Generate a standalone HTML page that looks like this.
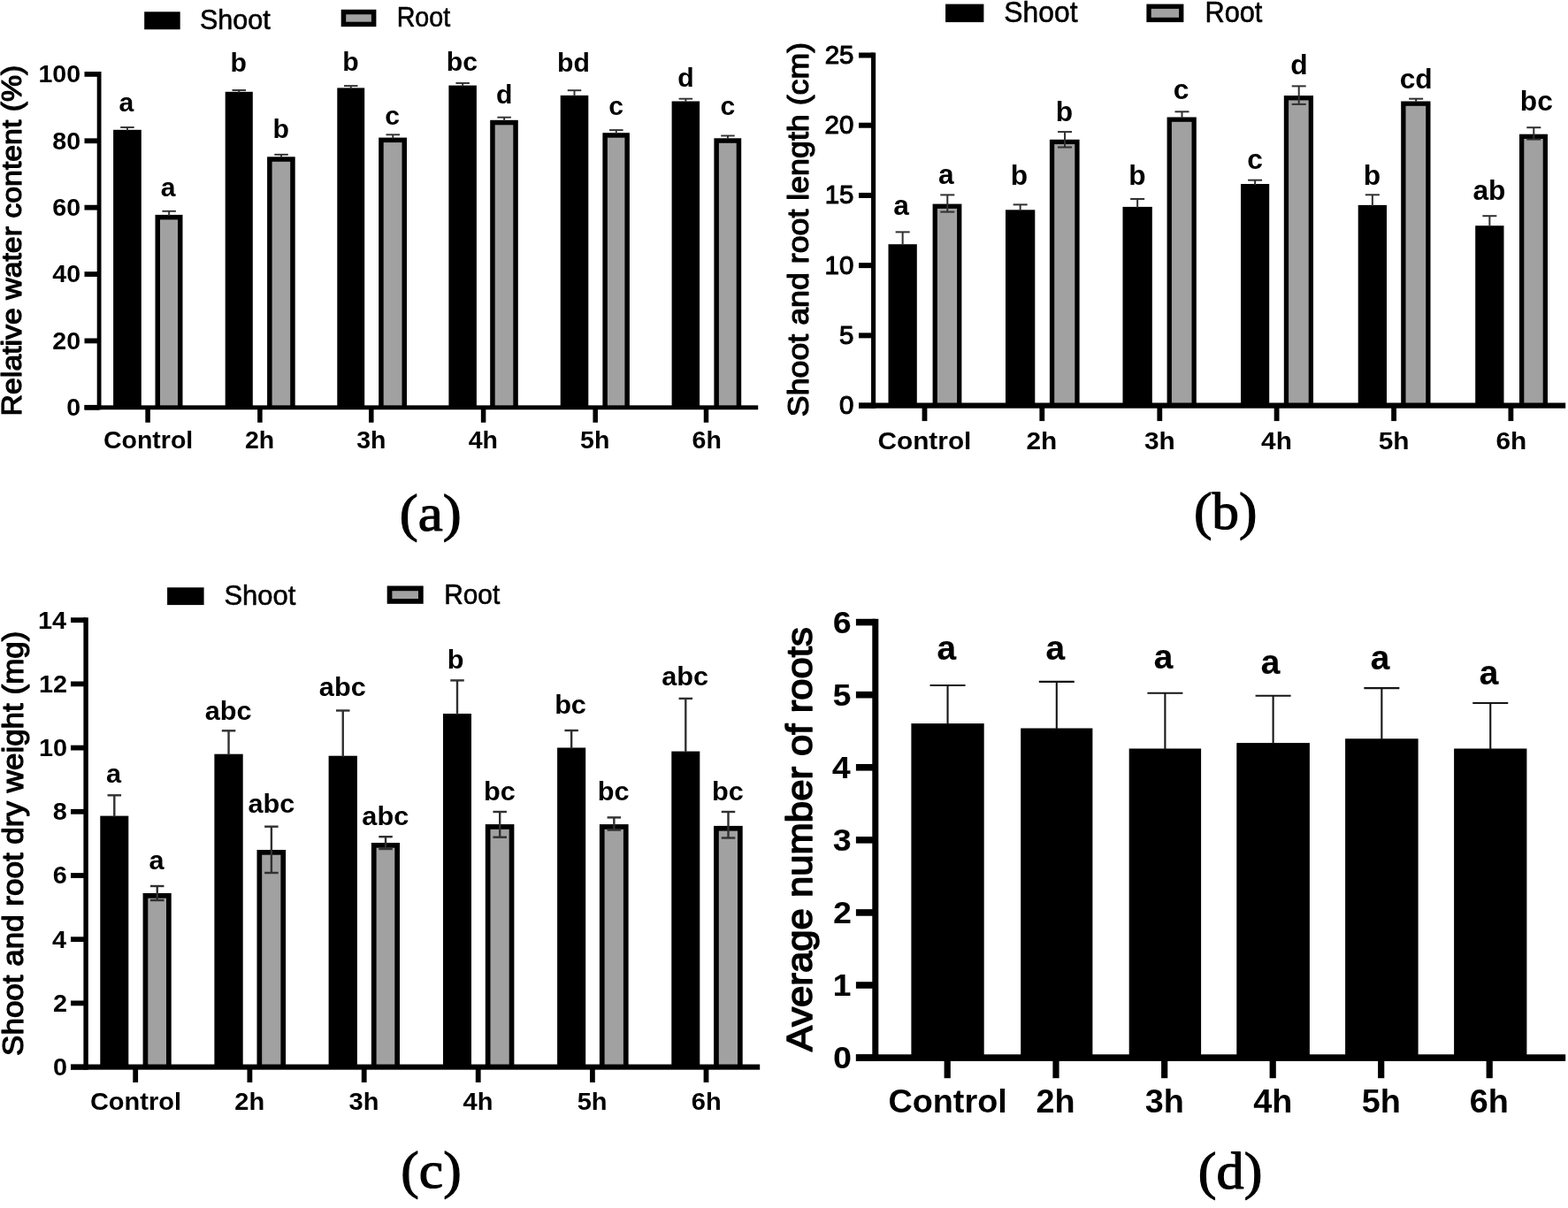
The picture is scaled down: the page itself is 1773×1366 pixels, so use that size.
<!DOCTYPE html>
<html lang="en">
<head>
<meta charset="utf-8">
<title>Figure</title>
<style>
html,body{margin:0;padding:0;background:#fff;}
body{width:1773px;height:1366px;overflow:hidden;}
svg{display:block;}
text{fill:#000;}
.b{font-family:"Liberation Sans",sans-serif;font-weight:bold;}
.r{font-family:"Liberation Sans",sans-serif;font-weight:normal;}
.t{font-family:"Liberation Serif",serif;font-weight:normal;}
</style>
</head>
<body>
<svg width="1773" height="1366" viewBox="0 0 1773 1366">
<rect x="0" y="0" width="1773" height="1366" fill="#fff"/>
<g>
<rect x="128.1" y="146.8" width="31.7" height="314" fill="#000"/>
<line x1="143.95" y1="144" x2="143.95" y2="147.8" stroke="#303030" stroke-width="1.9"/>
<line x1="136.2" y1="144" x2="151.7" y2="144" stroke="#303030" stroke-width="1.9"/>
<rect x="175.5" y="242.9" width="31" height="217.9" fill="#000"/>
<rect x="181" y="248.4" width="20" height="212.4" fill="#a1a1a1"/>
<line x1="191.15" y1="238.8" x2="191.15" y2="243.9" stroke="#303030" stroke-width="1.9"/>
<line x1="183.4" y1="238.8" x2="198.9" y2="238.8" stroke="#303030" stroke-width="1.9"/>
<rect x="254.7" y="103.8" width="31.1" height="357" fill="#000"/>
<line x1="270.25" y1="102" x2="270.25" y2="104.8" stroke="#303030" stroke-width="1.9"/>
<line x1="262.5" y1="102" x2="278" y2="102" stroke="#303030" stroke-width="1.9"/>
<rect x="302.1" y="177.3" width="31.6" height="283.5" fill="#000"/>
<rect x="307.6" y="182.8" width="20.6" height="278" fill="#a1a1a1"/>
<line x1="318.05" y1="174.8" x2="318.05" y2="178.3" stroke="#303030" stroke-width="1.9"/>
<line x1="310.3" y1="174.8" x2="325.8" y2="174.8" stroke="#303030" stroke-width="1.9"/>
<rect x="381.3" y="99.4" width="30.9" height="361.4" fill="#000"/>
<line x1="396.75" y1="97.1" x2="396.75" y2="100.4" stroke="#303030" stroke-width="1.9"/>
<line x1="389" y1="97.1" x2="404.5" y2="97.1" stroke="#303030" stroke-width="1.9"/>
<rect x="428.2" y="155.6" width="31.8" height="305.2" fill="#000"/>
<rect x="433.7" y="161.1" width="20.8" height="299.7" fill="#a1a1a1"/>
<line x1="444.25" y1="152.3" x2="444.25" y2="156.6" stroke="#303030" stroke-width="1.9"/>
<line x1="436.5" y1="152.3" x2="452" y2="152.3" stroke="#303030" stroke-width="1.9"/>
<rect x="507.4" y="96.6" width="31.5" height="364.2" fill="#000"/>
<line x1="523.15" y1="94" x2="523.15" y2="97.6" stroke="#303030" stroke-width="1.9"/>
<line x1="515.4" y1="94" x2="530.9" y2="94" stroke="#303030" stroke-width="1.9"/>
<rect x="554.2" y="135.8" width="31.6" height="325" fill="#000"/>
<rect x="559.7" y="141.3" width="20.6" height="319.5" fill="#a1a1a1"/>
<line x1="570.15" y1="132.7" x2="570.15" y2="136.8" stroke="#303030" stroke-width="1.9"/>
<line x1="562.4" y1="132.7" x2="577.9" y2="132.7" stroke="#303030" stroke-width="1.9"/>
<rect x="633.7" y="107.9" width="31.6" height="352.9" fill="#000"/>
<line x1="649.5" y1="102.2" x2="649.5" y2="108.9" stroke="#303030" stroke-width="1.9"/>
<line x1="641.75" y1="102.2" x2="657.25" y2="102.2" stroke="#303030" stroke-width="1.9"/>
<rect x="681.4" y="150.2" width="30.5" height="310.6" fill="#000"/>
<rect x="686.9" y="155.7" width="19.5" height="305.1" fill="#a1a1a1"/>
<line x1="696.8" y1="147.1" x2="696.8" y2="151.2" stroke="#303030" stroke-width="1.9"/>
<line x1="689.05" y1="147.1" x2="704.55" y2="147.1" stroke="#303030" stroke-width="1.9"/>
<rect x="759.6" y="114.5" width="31.5" height="346.3" fill="#000"/>
<line x1="775.35" y1="111.7" x2="775.35" y2="115.5" stroke="#303030" stroke-width="1.9"/>
<line x1="767.6" y1="111.7" x2="783.1" y2="111.7" stroke="#303030" stroke-width="1.9"/>
<rect x="807.4" y="156.3" width="30.8" height="304.5" fill="#000"/>
<rect x="812.9" y="161.8" width="19.8" height="299" fill="#a1a1a1"/>
<line x1="822.95" y1="153.5" x2="822.95" y2="157.3" stroke="#303030" stroke-width="1.9"/>
<line x1="815.2" y1="153.5" x2="830.7" y2="153.5" stroke="#303030" stroke-width="1.9"/>
<rect x="109.7" y="81" width="4.8" height="382.25" fill="#000"/>
<rect x="95.5" y="458.35" width="761.7" height="4.9" fill="#000"/>
<rect x="95.5" y="457.9" width="16.6" height="5.8" fill="#000"/>
<text class="b" font-size="27.5" transform="translate(75.27 470.2) scale(1.0400 1.0000)">0</text>
<rect x="95.5" y="382.52" width="16.6" height="5.8" fill="#000"/>
<text class="b" font-size="27.5" transform="translate(59.36 394.82) scale(1.0400 1.0000)">20</text>
<rect x="95.5" y="307.14" width="16.6" height="5.8" fill="#000"/>
<text class="b" font-size="27.5" transform="translate(59.36 319.44) scale(1.0400 1.0000)">40</text>
<rect x="95.5" y="231.76" width="16.6" height="5.8" fill="#000"/>
<text class="b" font-size="27.5" transform="translate(59.36 244.06) scale(1.0400 1.0000)">60</text>
<rect x="95.5" y="156.38" width="16.6" height="5.8" fill="#000"/>
<text class="b" font-size="27.5" transform="translate(59.36 168.68) scale(1.0400 1.0000)">80</text>
<rect x="95.5" y="81" width="16.6" height="5.8" fill="#000"/>
<text class="b" font-size="27.5" transform="translate(43.46 93.3) scale(1.0400 1.0000)">100</text>
<rect x="164.35" y="460.8" width="5.5" height="17" fill="#000"/>
<text class="b" font-size="27.3" transform="translate(116.92 507.2) scale(1.0450 1.0000)">Control</text>
<rect x="291.15" y="460.8" width="5.5" height="17" fill="#000"/>
<text class="b" font-size="27.3" transform="translate(276.94 507.2) scale(1.0450 1.0000)">2h</text>
<rect x="417.05" y="460.8" width="5.5" height="17" fill="#000"/>
<text class="b" font-size="27.3" transform="translate(403.21 507.2) scale(1.0450 1.0000)">3h</text>
<rect x="543.85" y="460.8" width="5.5" height="17" fill="#000"/>
<text class="b" font-size="27.3" transform="translate(529.72 507.2) scale(1.0450 1.0000)">4h</text>
<rect x="670.45" y="460.8" width="5.5" height="17" fill="#000"/>
<text class="b" font-size="27.3" transform="translate(656.1 507.2) scale(1.0450 1.0000)">5h</text>
<rect x="795.75" y="460.8" width="5.5" height="17" fill="#000"/>
<text class="b" font-size="27.3" transform="translate(782.52 507.2) scale(1.0450 1.0000)">6h</text>
<text class="b" font-size="29" transform="translate(134.58 126.3) scale(1.0400 1.0000)">a</text>
<text class="b" font-size="29" transform="translate(181.78 221.8) scale(1.0400 1.0000)">a</text>
<text class="b" font-size="29" transform="translate(260.41 81.4) scale(1.0400 1.0000)">b</text>
<text class="b" font-size="29" transform="translate(308.61 156.2) scale(1.0400 1.0000)">b</text>
<text class="b" font-size="29" transform="translate(387.21 80.1) scale(1.0400 1.0000)">b</text>
<text class="b" font-size="29" transform="translate(435.17 140.8) scale(1.0400 1.0000)">c</text>
<text class="b" font-size="29" transform="translate(504.85 80.1) scale(1.0400 1.0000)">bc</text>
<text class="b" font-size="29" transform="translate(560.96 116.5) scale(1.0400 1.0000)">d</text>
<text class="b" font-size="29" transform="translate(630.08 81.4) scale(1.0400 1.0000)">bd</text>
<text class="b" font-size="29" transform="translate(688.27 130.1) scale(1.0400 1.0000)">c</text>
<text class="b" font-size="29" transform="translate(766.16 97.5) scale(1.0400 1.0000)">d</text>
<text class="b" font-size="29" transform="translate(814.47 130.1) scale(1.0400 1.0000)">c</text>
<text class="r" font-size="31" transform="translate(24.4 470.38) rotate(-90) scale(1.0917 1.0000)" stroke="#000" stroke-width="1.2" stroke-linejoin="round">Relative water content (%)</text>
<rect x="163.2" y="13.3" width="40.5" height="20" fill="#000"/>
<text class="r" font-size="31.5" transform="translate(225.91 32.9) scale(0.9695 1.0000)" stroke="#000" stroke-width="0.6" stroke-linejoin="round">Shoot</text>
<rect x="388.45" y="13.55" width="34.2" height="13.9" fill="#a1a1a1" stroke="#000" stroke-width="5.5"/>
<text class="r" font-size="31.5" transform="translate(448.65 30) scale(0.9102 1.0000)" stroke="#000" stroke-width="0.6" stroke-linejoin="round">Root</text>
<text class="t" font-size="60" transform="translate(451.83 600.3) scale(1.0503 1.0000)" stroke="#000" stroke-width="1.2" stroke-linejoin="round">(a)</text>
</g>
<g>
<rect x="1004.5" y="276.2" width="32.3" height="182.4" fill="#000"/>
<line x1="1020.65" y1="262.4" x2="1020.65" y2="277.2" stroke="#303030" stroke-width="2"/>
<line x1="1012.65" y1="262.4" x2="1028.65" y2="262.4" stroke="#303030" stroke-width="2"/>
<rect x="1054.6" y="230.6" width="32.8" height="228" fill="#000"/>
<rect x="1059.9" y="235.9" width="22.2" height="222.7" fill="#a1a1a1"/>
<line x1="1071.3" y1="220.4" x2="1071.3" y2="239.6" stroke="#303030" stroke-width="2"/>
<line x1="1063.3" y1="220.4" x2="1079.3" y2="220.4" stroke="#303030" stroke-width="2"/>
<line x1="1063.3" y1="239.6" x2="1079.3" y2="239.6" stroke="#303030" stroke-width="2"/>
<rect x="1137" y="237.3" width="33.3" height="221.3" fill="#000"/>
<line x1="1153.65" y1="231.4" x2="1153.65" y2="238.3" stroke="#303030" stroke-width="2"/>
<line x1="1145.65" y1="231.4" x2="1161.65" y2="231.4" stroke="#303030" stroke-width="2"/>
<rect x="1186.9" y="157.8" width="33.7" height="300.8" fill="#000"/>
<rect x="1192.2" y="163.1" width="23.1" height="295.5" fill="#a1a1a1"/>
<line x1="1204.05" y1="149.1" x2="1204.05" y2="166.5" stroke="#303030" stroke-width="2"/>
<line x1="1196.05" y1="149.1" x2="1212.05" y2="149.1" stroke="#303030" stroke-width="2"/>
<line x1="1196.05" y1="166.5" x2="1212.05" y2="166.5" stroke="#303030" stroke-width="2"/>
<rect x="1269.5" y="233.9" width="33.3" height="224.7" fill="#000"/>
<line x1="1286.15" y1="225" x2="1286.15" y2="234.9" stroke="#303030" stroke-width="2"/>
<line x1="1278.15" y1="225" x2="1294.15" y2="225" stroke="#303030" stroke-width="2"/>
<rect x="1319.6" y="132.5" width="33.2" height="326.1" fill="#000"/>
<rect x="1324.9" y="137.8" width="22.6" height="320.8" fill="#a1a1a1"/>
<line x1="1336.5" y1="126.3" x2="1336.5" y2="133.5" stroke="#303030" stroke-width="2"/>
<line x1="1328.5" y1="126.3" x2="1344.5" y2="126.3" stroke="#303030" stroke-width="2"/>
<rect x="1403" y="208" width="32.2" height="250.6" fill="#000"/>
<line x1="1419.1" y1="203.7" x2="1419.1" y2="209" stroke="#303030" stroke-width="2"/>
<line x1="1411.1" y1="203.7" x2="1427.1" y2="203.7" stroke="#303030" stroke-width="2"/>
<rect x="1451.8" y="108.1" width="33.2" height="350.5" fill="#000"/>
<rect x="1457.1" y="113.4" width="22.6" height="345.2" fill="#a1a1a1"/>
<line x1="1468.7" y1="97.4" x2="1468.7" y2="117.9" stroke="#303030" stroke-width="2"/>
<line x1="1460.7" y1="97.4" x2="1476.7" y2="97.4" stroke="#303030" stroke-width="2"/>
<line x1="1460.7" y1="117.9" x2="1476.7" y2="117.9" stroke="#303030" stroke-width="2"/>
<rect x="1535.7" y="231.9" width="32.3" height="226.7" fill="#000"/>
<line x1="1551.85" y1="220.3" x2="1551.85" y2="232.9" stroke="#303030" stroke-width="2"/>
<line x1="1543.85" y1="220.3" x2="1559.85" y2="220.3" stroke="#303030" stroke-width="2"/>
<rect x="1584.2" y="114.5" width="33.3" height="344.1" fill="#000"/>
<rect x="1589.5" y="119.8" width="22.7" height="338.8" fill="#a1a1a1"/>
<line x1="1601.15" y1="111.7" x2="1601.15" y2="115.5" stroke="#303030" stroke-width="2"/>
<line x1="1593.15" y1="111.7" x2="1609.15" y2="111.7" stroke="#303030" stroke-width="2"/>
<rect x="1668.2" y="255.2" width="32.3" height="203.4" fill="#000"/>
<line x1="1684.35" y1="244.2" x2="1684.35" y2="256.2" stroke="#303030" stroke-width="2"/>
<line x1="1676.35" y1="244.2" x2="1692.35" y2="244.2" stroke="#303030" stroke-width="2"/>
<rect x="1718" y="151.7" width="32" height="306.9" fill="#000"/>
<rect x="1723.3" y="157" width="21.4" height="301.6" fill="#a1a1a1"/>
<line x1="1734.3" y1="144.2" x2="1734.3" y2="157.6" stroke="#303030" stroke-width="2"/>
<line x1="1726.3" y1="144.2" x2="1742.3" y2="144.2" stroke="#303030" stroke-width="2"/>
<line x1="1726.3" y1="157.6" x2="1742.3" y2="157.6" stroke="#303030" stroke-width="2"/>
<rect x="985.05" y="59.5" width="5.1" height="402.2" fill="#000"/>
<rect x="971" y="455.5" width="799.2" height="6.2" fill="#000"/>
<rect x="971" y="455.6" width="16.6" height="6" fill="#000"/>
<text class="r" font-size="29.5" transform="translate(948.95 468.1) scale(1.0000 1.0000)" stroke="#000" stroke-width="1.1" stroke-linejoin="round">0</text>
<rect x="971" y="376.38" width="16.6" height="6" fill="#000"/>
<text class="r" font-size="29.5" transform="translate(949.03 388.88) scale(1.0000 1.0000)" stroke="#000" stroke-width="1.1" stroke-linejoin="round">5</text>
<rect x="971" y="297.16" width="16.6" height="6" fill="#000"/>
<text class="r" font-size="29.5" transform="translate(932.54 309.66) scale(1.0000 1.0000)" stroke="#000" stroke-width="1.1" stroke-linejoin="round">10</text>
<rect x="971" y="217.94" width="16.6" height="6" fill="#000"/>
<text class="r" font-size="29.5" transform="translate(932.63 230.44) scale(1.0000 1.0000)" stroke="#000" stroke-width="1.1" stroke-linejoin="round">15</text>
<rect x="971" y="138.72" width="16.6" height="6" fill="#000"/>
<text class="r" font-size="29.5" transform="translate(932.54 151.22) scale(1.0000 1.0000)" stroke="#000" stroke-width="1.1" stroke-linejoin="round">20</text>
<rect x="971" y="59.5" width="16.6" height="6" fill="#000"/>
<text class="r" font-size="29.5" transform="translate(932.63 72) scale(1.0000 1.0000)" stroke="#000" stroke-width="1.1" stroke-linejoin="round">25</text>
<rect x="1042.6" y="458.6" width="5.8" height="17.5" fill="#000"/>
<text class="b" font-size="28" transform="translate(992.44 507.9) scale(1.0650 1.0000)">Control</text>
<rect x="1175.4" y="458.6" width="5.8" height="17.5" fill="#000"/>
<text class="b" font-size="28" transform="translate(1160.51 507.9) scale(1.0650 1.0000)">2h</text>
<rect x="1308.4" y="458.6" width="5.8" height="17.5" fill="#000"/>
<text class="b" font-size="28" transform="translate(1293.98 507.9) scale(1.0650 1.0000)">3h</text>
<rect x="1440.7" y="458.6" width="5.8" height="17.5" fill="#000"/>
<text class="b" font-size="28" transform="translate(1426.1 507.9) scale(1.0650 1.0000)">4h</text>
<rect x="1573.2" y="458.6" width="5.8" height="17.5" fill="#000"/>
<text class="b" font-size="28" transform="translate(1558.77 507.9) scale(1.0650 1.0000)">5h</text>
<rect x="1705.5" y="458.6" width="5.8" height="17.5" fill="#000"/>
<text class="b" font-size="28" transform="translate(1691.38 507.9) scale(1.0650 1.0000)">6h</text>
<text class="b" font-size="30.5" transform="translate(1010.31 243) scale(1.0400 1.0000)">a</text>
<text class="b" font-size="30.5" transform="translate(1060.91 208.4) scale(1.0400 1.0000)">a</text>
<text class="b" font-size="30.5" transform="translate(1142.82 209.2) scale(1.0400 1.0000)">b</text>
<text class="b" font-size="30.5" transform="translate(1193.72 137.2) scale(1.0400 1.0000)">b</text>
<text class="b" font-size="30.5" transform="translate(1276.32 209.2) scale(1.0400 1.0000)">b</text>
<text class="b" font-size="30.5" transform="translate(1326.82 112.3) scale(1.0400 1.0000)">c</text>
<text class="b" font-size="30.5" transform="translate(1410.22 190.5) scale(1.0400 1.0000)">c</text>
<text class="b" font-size="30.5" transform="translate(1459.31 84.2) scale(1.0400 1.0000)">d</text>
<text class="b" font-size="30.5" transform="translate(1541.72 209.2) scale(1.0400 1.0000)">b</text>
<text class="b" font-size="30.5" transform="translate(1582.72 99.5) scale(1.0400 1.0000)">cd</text>
<text class="b" font-size="30.5" transform="translate(1665.38 226.4) scale(1.0400 1.0000)">ab</text>
<text class="b" font-size="30.5" transform="translate(1718.81 125.2) scale(1.0400 1.0000)">bc</text>
<text class="r" font-size="33.5" transform="translate(913.5 471.22) rotate(-90) scale(1.0676 1.0000)" stroke="#000" stroke-width="1.2" stroke-linejoin="round">Shoot and root length (cm)</text>
<rect x="1069.1" y="4.6" width="43.3" height="20.5" fill="#000"/>
<text class="r" font-size="33" transform="translate(1135.35 25.4) scale(0.9645 1.0000)" stroke="#000" stroke-width="0.6" stroke-linejoin="round">Shoot</text>
<rect x="1299.05" y="7.25" width="36.7" height="15.2" fill="#a1a1a1" stroke="#000" stroke-width="5.3"/>
<text class="r" font-size="33" transform="translate(1362.48 25) scale(0.9317 1.0000)" stroke="#000" stroke-width="0.6" stroke-linejoin="round">Root</text>
<text class="t" font-size="59" transform="translate(1349.9 597.8) scale(1.0407 1.0000)" stroke="#000" stroke-width="1.2" stroke-linejoin="round">(b)</text>
</g>
<g>
<rect x="113.3" y="922.6" width="32" height="284" fill="#000"/>
<line x1="129.3" y1="899.3" x2="129.3" y2="923.6" stroke="#303030" stroke-width="2.4"/>
<line x1="121.55" y1="899.3" x2="137.05" y2="899.3" stroke="#303030" stroke-width="2.4"/>
<rect x="161.6" y="1010" width="32.1" height="196.6" fill="#000"/>
<rect x="167.3" y="1015.7" width="20.7" height="190.9" fill="#a1a1a1"/>
<line x1="177.75" y1="1002" x2="177.75" y2="1018" stroke="#303030" stroke-width="2.4"/>
<line x1="170" y1="1002" x2="185.5" y2="1002" stroke="#303030" stroke-width="2.4"/>
<line x1="170" y1="1018" x2="185.5" y2="1018" stroke="#303030" stroke-width="2.4"/>
<rect x="242.4" y="852.7" width="32.3" height="353.9" fill="#000"/>
<line x1="258.55" y1="826.3" x2="258.55" y2="853.7" stroke="#303030" stroke-width="2.4"/>
<line x1="250.8" y1="826.3" x2="266.3" y2="826.3" stroke="#303030" stroke-width="2.4"/>
<rect x="290.5" y="961" width="32.6" height="245.6" fill="#000"/>
<rect x="296.2" y="966.7" width="21.2" height="239.9" fill="#a1a1a1"/>
<line x1="306.9" y1="934.7" x2="306.9" y2="987" stroke="#303030" stroke-width="2.4"/>
<line x1="299.15" y1="934.7" x2="314.65" y2="934.7" stroke="#303030" stroke-width="2.4"/>
<line x1="299.15" y1="987" x2="314.65" y2="987" stroke="#303030" stroke-width="2.4"/>
<rect x="371.6" y="854.7" width="32.3" height="351.9" fill="#000"/>
<line x1="387.75" y1="803.5" x2="387.75" y2="855.7" stroke="#303030" stroke-width="2.4"/>
<line x1="380" y1="803.5" x2="395.5" y2="803.5" stroke="#303030" stroke-width="2.4"/>
<rect x="419.9" y="953" width="32.1" height="253.6" fill="#000"/>
<rect x="425.6" y="958.7" width="20.7" height="247.9" fill="#a1a1a1"/>
<line x1="436.05" y1="946.2" x2="436.05" y2="960" stroke="#303030" stroke-width="2.4"/>
<line x1="428.3" y1="946.2" x2="443.8" y2="946.2" stroke="#303030" stroke-width="2.4"/>
<line x1="428.3" y1="960" x2="443.8" y2="960" stroke="#303030" stroke-width="2.4"/>
<rect x="501" y="807" width="32" height="399.6" fill="#000"/>
<line x1="517" y1="769.4" x2="517" y2="808" stroke="#303030" stroke-width="2.4"/>
<line x1="509.25" y1="769.4" x2="524.75" y2="769.4" stroke="#303030" stroke-width="2.4"/>
<rect x="548.8" y="932.1" width="32.6" height="274.5" fill="#000"/>
<rect x="554.5" y="937.8" width="21.2" height="268.8" fill="#a1a1a1"/>
<line x1="565.2" y1="918" x2="565.2" y2="946.7" stroke="#303030" stroke-width="2.4"/>
<line x1="557.45" y1="918" x2="572.95" y2="918" stroke="#303030" stroke-width="2.4"/>
<line x1="557.45" y1="946.7" x2="572.95" y2="946.7" stroke="#303030" stroke-width="2.4"/>
<rect x="630.1" y="845.5" width="32.1" height="361.1" fill="#000"/>
<line x1="646.15" y1="826" x2="646.15" y2="846.5" stroke="#303030" stroke-width="2.4"/>
<line x1="638.4" y1="826" x2="653.9" y2="826" stroke="#303030" stroke-width="2.4"/>
<rect x="677.9" y="932.1" width="32.7" height="274.5" fill="#000"/>
<rect x="683.6" y="937.8" width="21.3" height="268.8" fill="#a1a1a1"/>
<line x1="694.35" y1="924.4" x2="694.35" y2="938.5" stroke="#303030" stroke-width="2.4"/>
<line x1="686.6" y1="924.4" x2="702.1" y2="924.4" stroke="#303030" stroke-width="2.4"/>
<line x1="686.6" y1="938.5" x2="702.1" y2="938.5" stroke="#303030" stroke-width="2.4"/>
<rect x="759.3" y="849.6" width="32" height="357" fill="#000"/>
<line x1="775.3" y1="789.9" x2="775.3" y2="850.6" stroke="#303030" stroke-width="2.4"/>
<line x1="767.55" y1="789.9" x2="783.05" y2="789.9" stroke="#303030" stroke-width="2.4"/>
<rect x="807.1" y="933.9" width="32.6" height="272.7" fill="#000"/>
<rect x="812.8" y="939.6" width="21.2" height="267" fill="#a1a1a1"/>
<line x1="823.5" y1="918" x2="823.5" y2="947.5" stroke="#303030" stroke-width="2.4"/>
<line x1="815.75" y1="918" x2="831.25" y2="918" stroke="#303030" stroke-width="2.4"/>
<line x1="815.75" y1="947.5" x2="831.25" y2="947.5" stroke="#303030" stroke-width="2.4"/>
<rect x="94.4" y="698.3" width="5.4" height="511.35" fill="#000"/>
<rect x="80" y="1203.55" width="779.2" height="6.1" fill="#000"/>
<rect x="80" y="1203.7" width="17.1" height="5.8" fill="#000"/>
<text class="b" font-size="28" transform="translate(59.94 1216) scale(1.0300 1.0000)">0</text>
<rect x="80" y="1131.5" width="17.1" height="5.8" fill="#000"/>
<text class="b" font-size="28" transform="translate(59.92 1143.8) scale(1.0300 1.0000)">2</text>
<rect x="80" y="1059.3" width="17.1" height="5.8" fill="#000"/>
<text class="b" font-size="28" transform="translate(58.92 1071.6) scale(1.0300 1.0000)">4</text>
<rect x="80" y="987.1" width="17.1" height="5.8" fill="#000"/>
<text class="b" font-size="28" transform="translate(59.8 999.4) scale(1.0300 1.0000)">6</text>
<rect x="80" y="914.9" width="17.1" height="5.8" fill="#000"/>
<text class="b" font-size="28" transform="translate(59.65 927.2) scale(1.0300 1.0000)">8</text>
<rect x="80" y="842.7" width="17.1" height="5.8" fill="#000"/>
<text class="b" font-size="28" transform="translate(43.9 855) scale(1.0300 1.0000)">10</text>
<rect x="80" y="770.5" width="17.1" height="5.8" fill="#000"/>
<text class="b" font-size="28" transform="translate(43.88 782.8) scale(1.0300 1.0000)">12</text>
<rect x="80" y="698.3" width="17.1" height="5.8" fill="#000"/>
<text class="b" font-size="28" transform="translate(42.88 710.6) scale(1.0300 1.0000)">14</text>
<rect x="150.3" y="1206.6" width="5.8" height="17.4" fill="#000"/>
<text class="b" font-size="27.8" transform="translate(101.9 1254.9) scale(1.0450 1.0000)">Control</text>
<rect x="279.5" y="1206.6" width="5.8" height="17.4" fill="#000"/>
<text class="b" font-size="27.8" transform="translate(265.25 1254.9) scale(1.0450 1.0000)">2h</text>
<rect x="408.8" y="1206.6" width="5.8" height="17.4" fill="#000"/>
<text class="b" font-size="27.8" transform="translate(394.62 1254.9) scale(1.0450 1.0000)">3h</text>
<rect x="537.8" y="1206.6" width="5.8" height="17.4" fill="#000"/>
<text class="b" font-size="27.8" transform="translate(523.53 1254.9) scale(1.0450 1.0000)">4h</text>
<rect x="667" y="1206.6" width="5.8" height="17.4" fill="#000"/>
<text class="b" font-size="27.8" transform="translate(652.7 1254.9) scale(1.0450 1.0000)">5h</text>
<rect x="795.6" y="1206.6" width="5.8" height="17.4" fill="#000"/>
<text class="b" font-size="27.8" transform="translate(781.82 1254.9) scale(1.0450 1.0000)">6h</text>
<text class="b" font-size="29.5" transform="translate(119.92 884.7) scale(1.0400 1.0000)">a</text>
<text class="b" font-size="29.5" transform="translate(168.42 983.4) scale(1.0400 1.0000)">a</text>
<text class="b" font-size="29.5" transform="translate(231.77 813.7) scale(1.0400 1.0000)">abc</text>
<text class="b" font-size="29.5" transform="translate(280.47 918.8) scale(1.0400 1.0000)">abc</text>
<text class="b" font-size="29.5" transform="translate(360.87 787.3) scale(1.0400 1.0000)">abc</text>
<text class="b" font-size="29.5" transform="translate(409.37 932.8) scale(1.0400 1.0000)">abc</text>
<text class="b" font-size="29.5" transform="translate(505.85 756.1) scale(1.0400 1.0000)">b</text>
<text class="b" font-size="29.5" transform="translate(546.94 905.2) scale(1.0400 1.0000)">bc</text>
<text class="b" font-size="29.5" transform="translate(627.14 807.3) scale(1.0400 1.0000)">bc</text>
<text class="b" font-size="29.5" transform="translate(675.84 905.2) scale(1.0400 1.0000)">bc</text>
<text class="b" font-size="29.5" transform="translate(748.27 774.5) scale(1.0400 1.0000)">abc</text>
<text class="b" font-size="29.5" transform="translate(804.94 905.2) scale(1.0400 1.0000)">bc</text>
<text class="r" font-size="33" transform="translate(26 1193.89) rotate(-90) scale(1.0605 1.0000)" stroke="#000" stroke-width="1.2" stroke-linejoin="round">Shoot and root dry weight (mg)</text>
<rect x="189.1" y="664.3" width="41.5" height="19.8" fill="#000"/>
<text class="r" font-size="32" transform="translate(253.39 684) scale(0.9690 1.0000)" stroke="#000" stroke-width="0.6" stroke-linejoin="round">Shoot</text>
<rect x="440.55" y="665.35" width="35.3" height="14.6" fill="#a1a1a1" stroke="#000" stroke-width="5.7"/>
<text class="r" font-size="32" transform="translate(502.15 682.8) scale(0.9330 1.0000)" stroke="#000" stroke-width="0.6" stroke-linejoin="round">Root</text>
<text class="t" font-size="59.5" transform="translate(453.29 1342.7) scale(1.0361 1.0000)" stroke="#000" stroke-width="1.2" stroke-linejoin="round">(c)</text>
</g>
<g>
<rect x="1030.4" y="818.1" width="82.3" height="378" fill="#000"/>
<line x1="1071.55" y1="775" x2="1071.55" y2="819.1" stroke="#151515" stroke-width="2.1"/>
<line x1="1051.55" y1="775" x2="1091.55" y2="775" stroke="#151515" stroke-width="2.1"/>
<rect x="1154.2" y="823.5" width="81.2" height="372.6" fill="#000"/>
<line x1="1194.8" y1="770.9" x2="1194.8" y2="824.5" stroke="#151515" stroke-width="2.1"/>
<line x1="1174.8" y1="770.9" x2="1214.8" y2="770.9" stroke="#151515" stroke-width="2.1"/>
<rect x="1276.7" y="846.5" width="81.4" height="349.6" fill="#000"/>
<line x1="1317.4" y1="783.8" x2="1317.4" y2="847.5" stroke="#151515" stroke-width="2.1"/>
<line x1="1297.4" y1="783.8" x2="1337.4" y2="783.8" stroke="#151515" stroke-width="2.1"/>
<rect x="1398.3" y="840.1" width="82.6" height="356" fill="#000"/>
<line x1="1439.6" y1="786.8" x2="1439.6" y2="841.1" stroke="#151515" stroke-width="2.1"/>
<line x1="1419.6" y1="786.8" x2="1459.6" y2="786.8" stroke="#151515" stroke-width="2.1"/>
<rect x="1521.1" y="835.3" width="82.5" height="360.8" fill="#000"/>
<line x1="1562.35" y1="778.1" x2="1562.35" y2="836.3" stroke="#151515" stroke-width="2.1"/>
<line x1="1542.35" y1="778.1" x2="1582.35" y2="778.1" stroke="#151515" stroke-width="2.1"/>
<rect x="1644.1" y="846.5" width="82.3" height="349.6" fill="#000"/>
<line x1="1685.25" y1="795" x2="1685.25" y2="847.5" stroke="#151515" stroke-width="2.1"/>
<line x1="1665.25" y1="795" x2="1705.25" y2="795" stroke="#151515" stroke-width="2.1"/>
<rect x="986.3" y="699.8" width="7" height="500.1" fill="#000"/>
<rect x="967.9" y="1192.3" width="802.3" height="7.6" fill="#000"/>
<rect x="967.9" y="1192.3" width="21.9" height="7.6" fill="#000"/>
<text class="b" font-size="35.5" transform="translate(942.28 1208.1) scale(1.0400 1.0000)" stroke="#000" stroke-width="0.2" stroke-linejoin="round">0</text>
<rect x="967.9" y="1110.22" width="21.9" height="7.6" fill="#000"/>
<text class="b" font-size="35.5" transform="translate(941.79 1126.02) scale(1.0400 1.0000)" stroke="#000" stroke-width="0.2" stroke-linejoin="round">1</text>
<rect x="967.9" y="1028.13" width="21.9" height="7.6" fill="#000"/>
<text class="b" font-size="35.5" transform="translate(942.25 1043.93) scale(1.0400 1.0000)" stroke="#000" stroke-width="0.2" stroke-linejoin="round">2</text>
<rect x="967.9" y="946.05" width="21.9" height="7.6" fill="#000"/>
<text class="b" font-size="35.5" transform="translate(942.1 961.85) scale(1.0400 1.0000)" stroke="#000" stroke-width="0.2" stroke-linejoin="round">3</text>
<rect x="967.9" y="863.97" width="21.9" height="7.6" fill="#000"/>
<text class="b" font-size="35.5" transform="translate(940.97 879.77) scale(1.0400 1.0000)" stroke="#000" stroke-width="0.2" stroke-linejoin="round">4</text>
<rect x="967.9" y="781.88" width="21.9" height="7.6" fill="#000"/>
<text class="b" font-size="35.5" transform="translate(941.79 797.68) scale(1.0400 1.0000)" stroke="#000" stroke-width="0.2" stroke-linejoin="round">5</text>
<rect x="967.9" y="699.8" width="21.9" height="7.6" fill="#000"/>
<text class="b" font-size="35.5" transform="translate(942.1 715.6) scale(1.0400 1.0000)" stroke="#000" stroke-width="0.2" stroke-linejoin="round">6</text>
<rect x="1067.6" y="1196.1" width="7.2" height="23.1" fill="#000"/>
<text class="b" font-size="36" transform="translate(1004.38 1258.1) scale(1.0500 1.0000)">Control</text>
<rect x="1190.4" y="1196.1" width="7.2" height="23.1" fill="#000"/>
<text class="b" font-size="36" transform="translate(1171.46 1258.1) scale(1.0500 1.0000)">2h</text>
<rect x="1313.1" y="1196.1" width="7.2" height="23.1" fill="#000"/>
<text class="b" font-size="36" transform="translate(1294.68 1258.1) scale(1.0500 1.0000)">3h</text>
<rect x="1435.6" y="1196.1" width="7.2" height="23.1" fill="#000"/>
<text class="b" font-size="36" transform="translate(1417.13 1258.1) scale(1.0500 1.0000)">4h</text>
<rect x="1558.1" y="1196.1" width="7.2" height="23.1" fill="#000"/>
<text class="b" font-size="36" transform="translate(1539.63 1258.1) scale(1.0500 1.0000)">5h</text>
<rect x="1680.6" y="1196.1" width="7.2" height="23.1" fill="#000"/>
<text class="b" font-size="36" transform="translate(1661.82 1258.1) scale(1.0500 1.0000)">6h</text>
<text class="b" font-size="38" transform="translate(1059.43 745.5) scale(1.0200 1.0000)" stroke="#000" stroke-width="0.2" stroke-linejoin="round">a</text>
<text class="b" font-size="38" transform="translate(1182.43 745.5) scale(1.0200 1.0000)" stroke="#000" stroke-width="0.2" stroke-linejoin="round">a</text>
<text class="b" font-size="38" transform="translate(1304.73 756.3) scale(1.0200 1.0000)" stroke="#000" stroke-width="0.2" stroke-linejoin="round">a</text>
<text class="b" font-size="38" transform="translate(1425.83 762.2) scale(1.0200 1.0000)" stroke="#000" stroke-width="0.2" stroke-linejoin="round">a</text>
<text class="b" font-size="38" transform="translate(1549.83 757.1) scale(1.0200 1.0000)" stroke="#000" stroke-width="0.2" stroke-linejoin="round">a</text>
<text class="b" font-size="38" transform="translate(1672.63 773.7) scale(1.0200 1.0000)" stroke="#000" stroke-width="0.2" stroke-linejoin="round">a</text>
<text class="r" font-size="41.5" transform="translate(918.4 1189.09) rotate(-90) scale(1.0524 1.0000)" stroke="#000" stroke-width="1.6" stroke-linejoin="round">Average number of roots</text>
<text class="t" font-size="59.5" transform="translate(1354.87 1343.5) scale(1.0445 1.0000)" stroke="#000" stroke-width="1.2" stroke-linejoin="round">(d)</text>
</g>
</svg>
</body>
</html>
